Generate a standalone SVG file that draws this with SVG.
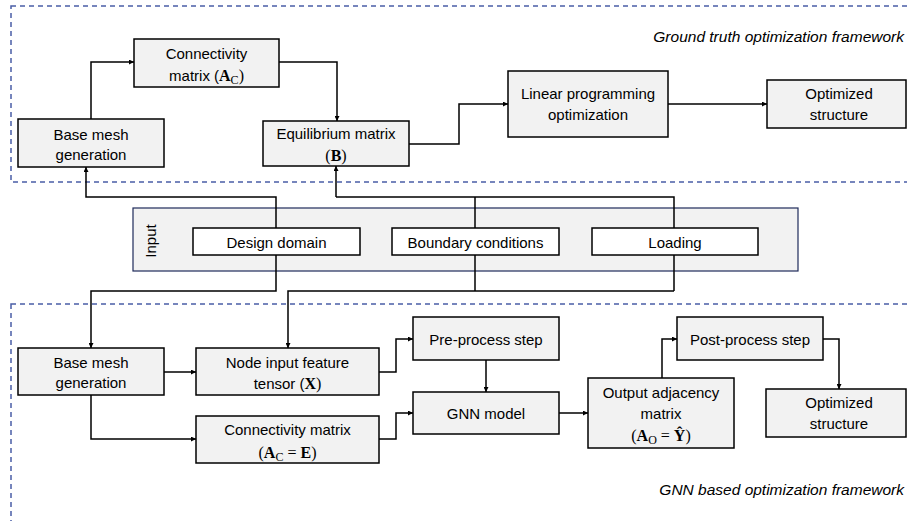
<svg xmlns="http://www.w3.org/2000/svg" width="907" height="521" viewBox="0 0 907 521">
<defs>
<marker id="ah" viewBox="0 0 10 10" refX="10" refY="5" markerWidth="5" markerHeight="5" orient="auto" markerUnits="userSpaceOnUse">
<path d="M0,0 L10,5 L0,10 z" fill="#000"/>
</marker>
<style>
.frame{fill:none;stroke:#4a5ea6;stroke-width:1.5;stroke-dasharray:5 4}
.box{fill:#f2f2f2;stroke:#000;stroke-width:1.5}
.wbox{fill:#fff;stroke:#000;stroke-width:1.5}
.inbox{fill:#f2f2f2;stroke:#1f2a5a;stroke-width:1.2}
text{font-family:"Liberation Sans",Arial,sans-serif;font-size:15px;fill:#000;text-anchor:middle}
.it{font-style:italic;text-anchor:end;font-size:15.5px}
.m{font-family:"Liberation Serif","Times New Roman",serif;font-weight:bold;font-size:16px}
.mr{font-family:"Liberation Serif","Times New Roman",serif;font-weight:normal;font-size:16px}
.sub{font-family:"Liberation Serif","Times New Roman",serif;font-weight:normal;font-size:12px}
.c{fill:none;stroke:#000;stroke-width:1.5}
.ca{fill:none;stroke:#000;stroke-width:1.5;marker-end:url(#ah)}
</style>
</defs>
<g id="frames">
<rect class="frame" x="11" y="6" width="910" height="176"/>
<rect class="frame" x="11" y="304" width="910" height="240"/>
<text class="it" x="904" y="42">Ground truth optimization framework</text>
<text class="it" x="904" y="495">GNN based optimization framework</text>
</g>
<g id="input">
<rect class="inbox" x="133" y="208" width="665" height="63"/>
<text transform="translate(156,241) rotate(-90)">Input</text>
</g>
<g id="connectors">
<!-- top -->
<path class="ca" d="M91,119 V62 H134"/>
<path class="ca" d="M279,62 H337 V121"/>
<path class="ca" d="M409,144 H459 V104 H508"/>
<path class="ca" d="M668,104 H767"/>
<!-- input to top -->
<path class="ca" d="M276,228 V197 H86 V167"/>
<path class="c" d="M674,291 V197 H336"/>
<path class="ca" d="M336,197 V166"/>
<path class="c" d="M475,197 V291"/>
<!-- input to bottom -->
<path class="ca" d="M276,255 V291 H91 V348"/>
<path class="ca" d="M674,291 H288 V348"/>
<!-- bottom -->
<path class="ca" d="M164,372 H196"/>
<path class="ca" d="M91,395 V439 H196"/>
<path class="ca" d="M379,372 H396 V339 H413"/>
<path class="ca" d="M379,439 H396 V413 H413"/>
<path class="ca" d="M486,360 V392"/>
<path class="ca" d="M559,413 H588"/>
<path class="ca" d="M662,378 V339 H677"/>
<path class="ca" d="M823,339 H839 V389"/>
</g>
<g id="n-conn-top">
<rect class="box" x="134" y="39" width="145" height="48"/>
<text x="206.5" y="59">Connectivity</text>
<text x="206.5" y="81">matrix (<tspan class="m">A</tspan><tspan class="sub" dy="3">C</tspan><tspan class="mr" dy="-3">)</tspan></text>
</g>
<g id="n-base-top">
<rect class="box" x="18" y="119" width="146" height="48"/>
<text x="91" y="140">Base mesh</text>
<text x="91" y="160">generation</text>
</g>
<g id="n-equil">
<rect class="box" x="263" y="121" width="146" height="45"/>
<text x="336" y="139">Equilibrium matrix</text>
<text x="336" y="161" class="mr">(<tspan class="m">B</tspan>)</text>
</g>
<g id="n-lp">
<rect class="box" x="508" y="71" width="160" height="66"/>
<text x="588" y="99">Linear programming</text>
<text x="588" y="120">optimization</text>
</g>
<g id="n-opt-top">
<rect class="box" x="767" y="80" width="139" height="48"/>
<text x="839" y="99">Optimized</text>
<text x="839" y="120">structure</text>
</g>
<g id="n-design">
<rect class="wbox" x="193" y="228" width="167" height="27"/>
<text x="276.5" y="248">Design domain</text>
</g>
<g id="n-boundary">
<rect class="wbox" x="392" y="228" width="167" height="27"/>
<text x="475.5" y="248">Boundary conditions</text>
</g>
<g id="n-loading">
<rect class="wbox" x="592" y="228" width="166" height="27"/>
<text x="675" y="248">Loading</text>
</g>
<g id="n-base-bot">
<rect class="box" x="18" y="348" width="146" height="47"/>
<text x="91" y="368">Base mesh</text>
<text x="91" y="388">generation</text>
</g>
<g id="n-node-input">
<rect class="box" x="196" y="348" width="183" height="47"/>
<text x="287.5" y="368">Node input feature</text>
<text x="287.5" y="389">tensor (<tspan class="m">X</tspan><tspan class="mr">)</tspan></text>
</g>
<g id="n-conn-bot">
<rect class="box" x="196" y="416" width="183" height="47"/>
<text x="287.5" y="435">Connectivity matrix</text>
<text x="287.5" y="458" class="mr">(<tspan class="m">A</tspan><tspan class="sub" dy="3">C</tspan><tspan dy="-3"> = </tspan><tspan class="m">E</tspan>)</text>
</g>
<g id="n-pre">
<rect class="box" x="413" y="317" width="146" height="43"/>
<text x="486" y="345">Pre-process step</text>
</g>
<g id="n-gnn">
<rect class="box" x="413" y="392" width="146" height="42"/>
<text x="486" y="419">GNN model</text>
</g>
<g id="n-output">
<rect class="box" x="588" y="378" width="146" height="70"/>
<text x="661" y="398">Output adjacency</text>
<text x="661" y="419">matrix</text>
<text x="661" y="441" class="mr">(<tspan class="m">A</tspan><tspan class="sub" dy="3">O</tspan><tspan dy="-3"> =  </tspan><tspan class="m">Ŷ</tspan>)</text>
</g>
<g id="n-post">
<rect class="box" x="677" y="317" width="146" height="43"/>
<text x="750" y="345">Post-process step</text>
</g>
<g id="n-opt-bot">
<rect class="box" x="766" y="389" width="140" height="48"/>
<text x="839" y="408">Optimized</text>
<text x="839" y="429">structure</text>
</g>
</svg>
